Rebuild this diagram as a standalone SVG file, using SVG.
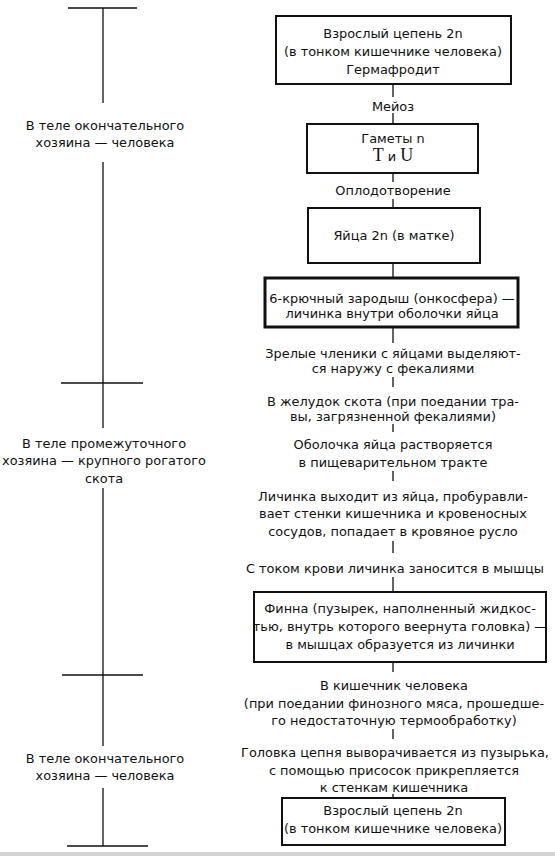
<svg xmlns="http://www.w3.org/2000/svg" width="555" height="856" viewBox="0 0 555 856">
<style>
text{font-family:"DejaVu Sans","Liberation Sans",sans-serif;font-size:12.9px;fill:#111;text-anchor:middle}
.serif{font-family:"Liberation Serif","Times New Roman",serif;font-size:18px}
.box{fill:#fff;stroke:#111;stroke-width:2}
.thick{stroke-width:3}
.ln{stroke:#111;stroke-width:1.3;fill:none}
.tick{stroke:#111;stroke-width:1.5;fill:none}
</style>
<rect x="0" y="0" width="555" height="856" fill="#fff"/>
<rect x="0" y="852" width="555" height="4" fill="#d4d4d4"/>
<g id="timeline">
<path class="ln" d="M103 8V103M103 162V428M103 488V746M103 788V846"/>
<path class="tick" d="M68 8H137M61 383H143M62 675H143M67 846H148"/>
</g>
<g id="host-final-1"><text x="105" y="130">В теле окончательного</text><text x="105" y="147">хозяина — человека</text></g>
<g id="host-intermediate"><text x="104" y="448">В теле промежуточного</text><text x="104" y="465">хозяина — крупного рогатого</text><text x="104" y="483">скота</text></g>
<g id="host-final-2"><text x="105" y="763">В теле окончательного</text><text x="105" y="780">хозяина — человека</text></g>
<g id="connectors">
<path class="ln" d="M393 84V97M393 113V124M393 173V182M393 199V208M393 263V278M393 327V343M393 377V387M393 424V432M393 471V481M393 541V553M393 577V592M393 662V672M393 729V739M393 794V798"/>
</g>
<g id="adult-1"><rect class="box" x="276" y="16" width="235" height="68"/><text x="393" y="38">Взрослый цепень 2n</text><text x="393" y="56">(в тонком кишечнике человека)</text><text x="393" y="74">Гермафродит</text></g>
<g id="meiosis"><text x="393" y="111">Мейоз</text></g>
<g id="gametes"><rect class="box" x="307" y="124" width="171" height="49"/><text x="393" y="143">Гаметы n</text><text x="393" y="161"><tspan class="serif">T</tspan> и <tspan class="serif">U</tspan></text></g>
<g id="fertilization"><text x="393" y="195">Оплодотворение</text></g>
<g id="eggs"><rect class="box" x="308" y="208" width="172" height="55"/><text x="394" y="240">Яйца 2n (в матке)</text></g>
<g id="oncosphere"><rect class="box thick" x="265" y="278" width="253" height="49"/><text x="392" y="303">6-крючный зародыш (онкосфера) —</text><text x="392" y="318">личинка внутри оболочки яйца</text></g>
<g id="step1"><text x="393" y="358">Зрелые членики с яйцами выделяют-</text><text x="393" y="373">ся наружу с фекалиями</text></g>
<g id="step2"><text x="393" y="406">В желудок скота (при поедании тра-</text><text x="393" y="421">вы, загрязненной фекалиями)</text></g>
<g id="step3"><text x="393" y="449">Оболочка яйца растворяется</text><text x="393" y="467">в пищеварительном тракте</text></g>
<g id="step4"><text x="393" y="501">Личинка выходит из яйца, пробуравли-</text><text x="393" y="518">вает стенки кишечника и кровеносных</text><text x="393" y="536">сосудов, попадает в кровяное русло</text></g>
<g id="step5"><text x="395" y="573">С током крови личинка заносится в мышцы</text></g>
<g id="finna"><rect class="box" x="254" y="592" width="292" height="70"/><text x="400" y="613">Финна (пузырек, наполненный жидкос-</text><text x="400" y="631">тью, внутрь которого веернута головка) —</text><text x="400" y="649">в мышцах образуется из личинки</text></g>
<g id="step6"><text x="394" y="690">В кишечник человека</text><text x="394" y="708">(при поедании финозного мяса, прошедше-</text><text x="394" y="725">го недостаточную термообработку)</text></g>
<g id="step7"><text x="395" y="757">Головка цепня выворачивается из пузырька,</text><text x="394" y="775">с помощью присосок прикрепляется</text><text x="394" y="792">к стенкам кишечника</text></g>
<g id="adult-2"><rect class="box" x="282" y="798" width="223" height="47"/><text x="393" y="815">Взрослый цепень 2n</text><text x="393" y="833">(в тонком кишечнике человека)</text></g>
</svg>
